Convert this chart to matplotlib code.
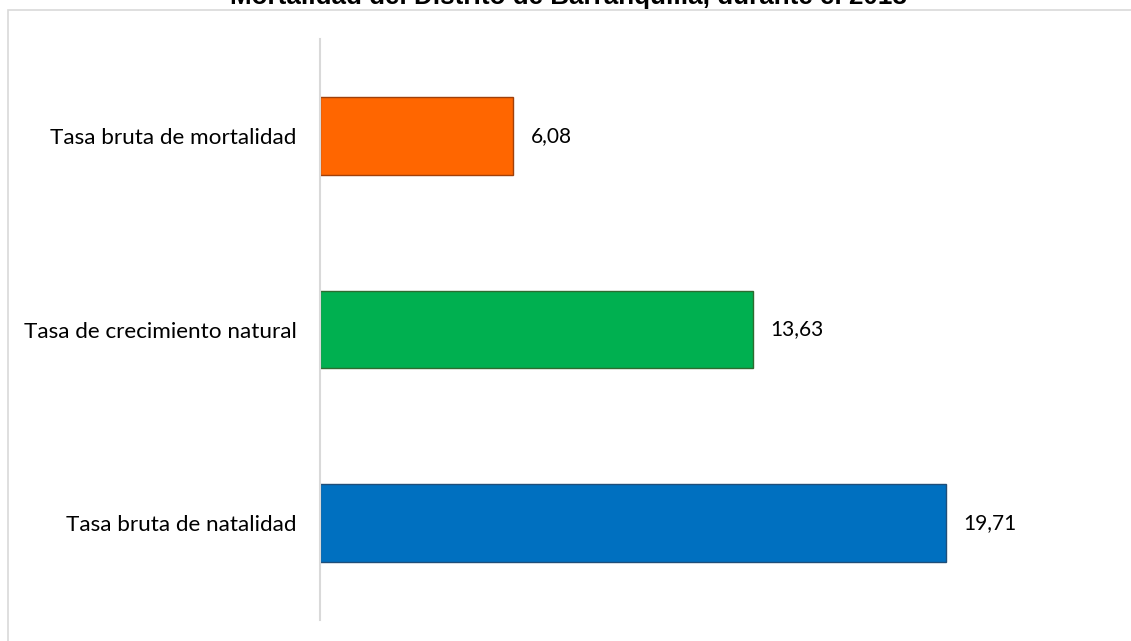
import matplotlib
matplotlib.use('Agg')
import matplotlib.pyplot as plt
from matplotlib.patches import Rectangle

##################################
# data

categorias=['Tasa bruta de natalidad','Tasa de crecimiento natural','Tasa bruta de mortalidad']
valores=[19.71,13.63,6.08]
etiquetas=['19,71','13,63','6,08']
colores=['#0070C0','#00B050','#FF6600']
bordes=['#1F4E79','#2E6B30','#A0400A']
titulo='Mortalidad del Distrito de Barranquilla, durante el 2018'

###########################################

W,H=1131,641
fig=plt.figure(figsize=(W/100,H/100),dpi=100)

# light grey chart frame (cut by the image edge on right and bottom)
fig.patches.append(Rectangle((8/W,-0.2),1.2,1.2-10/H,transform=fig.transFigure,
                             fill=False,edgecolor='#D9D9D9',linewidth=1.2))

# title, mostly cropped off the top
fig.text(568/W,1-4/H,titulo,ha='center',va='baseline',fontsize=18.7,
         fontweight='bold',family='Liberation Sans')

ax=fig.add_axes([320/W,1-620/H,(1114-320)/W,581/H])
pos=range(len(categorias))
ax.barh(pos,valores,height=0.40,color=colores,edgecolor=bordes,linewidth=1)
for p,v,t in zip(pos,valores,etiquetas):
  ax.text(v+0.55,p,t,va='center',ha='left',fontsize=15,family='Lato')

ax.set_xlim(0,25)
ax.set_ylim(-0.5,2.5)
ax.set_yticks(list(pos))
ax.set_yticklabels(categorias,fontsize=16.2,family='Lato')
ax.tick_params(axis='y',length=0,pad=17)
ax.set_xticks([])
for s in ['top','right','bottom']:
  ax.spines[s].set_visible(False)
ax.spines['left'].set_color('#D9D9D9')
ax.spines['left'].set_linewidth(1.5)

fig.savefig('out.png',dpi=100)
